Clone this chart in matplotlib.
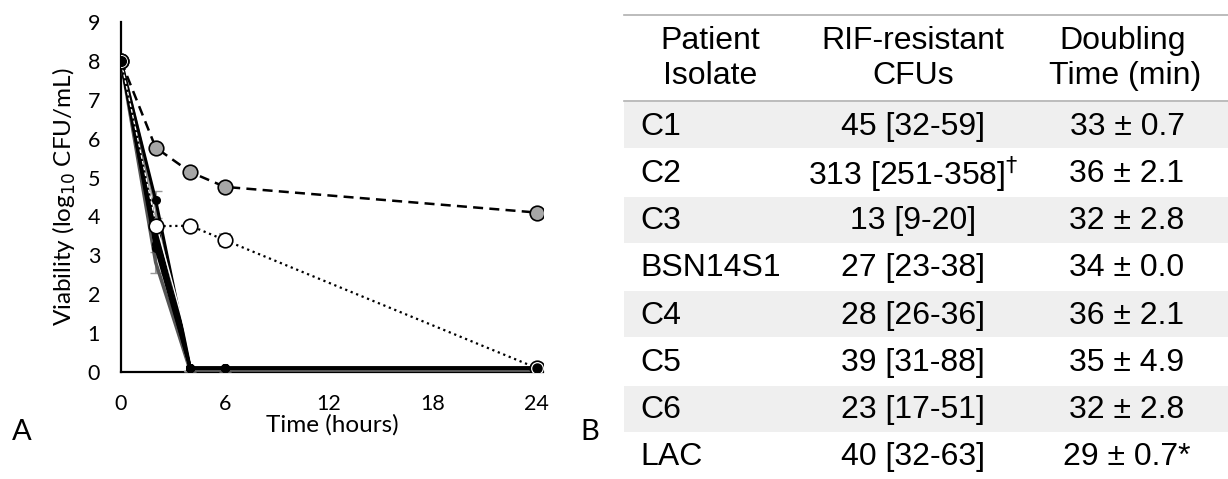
import numpy as np
import matplotlib
matplotlib.use("Agg")
import matplotlib.pyplot as plt

# panel A: time-kill data (log10 CFU/mL)
time_h = [0, 2, 4, 6, 24]
lac_gray = [8, 5.77, 5.14, 4.76, 4.1]
open_white = [8, 3.75, 3.76, 3.39, 0.1]
white_err = [0, 0, 0, 0.15, 0]
black_2h = [4.42, 3.75, 3.5, 3.3, 3.2]
gray_solid = [8, 4.3, 0.03, 0.03, 0.03]
gray_err = [0, 0.35, 0, 0, 0]
gray_low = [8, 2.82, 0.03, 0.03, 0.03]
gray_low_err = [0, 0.27, 0, 0, 0]

# panel B: table
isolates = ["C1", "C2", "C3", "BSN14S1", "C4", "C5", "C6", "LAC"]
rif_cfus = ["45 [32-59]", "313 [251-358]$^{\\dagger}$", "13 [9-20]", "27 [23-38]",
            "28 [26-36]", "39 [31-88]", "23 [17-51]", "40 [32-63]"]
doubling = ["33 ± 0.7", "36 ± 2.1", "32 ± 2.8", "34 ± 0.0",
            "36 ± 2.1", "35 ± 4.9", "32 ± 2.8", "29 ± 0.7*"]

W, H = 1228, 479
fig = plt.figure(figsize=(W / 100, H / 100), dpi=100)

ax = fig.add_axes([121 / W, 1 - 372 / H, 422 / W, 350 / H])
ax.set_xlim(0, 24.35)
ax.set_ylim(0, 9)
for s in ["top", "right"]:
    ax.spines[s].set_visible(False)
for s in ["left", "bottom"]:
    ax.spines[s].set_linewidth(1.6)
    ax.spines[s].set_zorder(0)
ax.tick_params(length=0, labelsize=15.5)
ax.tick_params(axis="x", pad=16)
ax.tick_params(axis="y", pad=15)
ax.set_xticks([0, 6, 12, 18, 24])
ax.set_yticks(range(10))
for lab in ax.get_xticklabels() + ax.get_yticklabels():
    lab.set_family("Lato")

# gray error-bar series under the black bundle
ax.errorbar(time_h, gray_solid, yerr=gray_err, color="#888888", lw=2.5,
            ecolor="#999999", elinewidth=1.5, capsize=4, zorder=2)
ax.errorbar(time_h, gray_low, yerr=gray_low_err, color="#555555", lw=2.5,
            ecolor="#999999", elinewidth=1.5, capsize=4, zorder=2)

for v in black_2h:
    ax.plot(time_h, [8, v, 0.1, 0.1, 0.1], color="black", lw=2.2,
            marker="o", ms=5.5, zorder=3)
ax.plot(time_h[:3], [8, 3.85, 0.6], color="white", lw=1, zorder=4)

ax.plot(time_h, lac_gray, color="black", ls="--", lw=1.8, dashes=(4, 2.5),
        marker="o", ms=10.5, mfc="#a6a6a6", mec="black", mew=1.2, zorder=5)
ax.errorbar(time_h, open_white, yerr=white_err, color="black", ls=":", lw=1.6,
            ecolor="#999999", elinewidth=1.5, capsize=4,
            marker="o", ms=10.5, mfc="white", mec="black", mew=1.2, zorder=5)
ax.plot([time_h[-1]], [0.1], marker="o", ms=6.5, color="black", zorder=6)
ax.plot([time_h[0]], [8], marker="o", ms=7, color="black", zorder=6)

ax.set_xlabel("Time (hours)", family="Lato", fontsize=17.5, labelpad=0)
ax.set_ylabel("Viability (log$_{10}$ CFU/mL)", family="Lato", fontsize=17.5, labelpad=7)
fig.text(12 / W, 1 - 432 / H, "A", family="Lato", fontsize=21, va="center")
fig.text(580 / W, 1 - 432 / H, "B", family="Lato", fontsize=21, va="center")

# table drawn on a pixel-coordinate axes
tb = fig.add_axes([0, 0, 1, 1])
tb.set_xlim(0, W)
tb.set_ylim(H, 0)
tb.axis("off")
tf = dict(family="Liberation Sans", fontsize=23, va="center")
row_h = 47.25
top = 101
tb.plot([624, W], [15, 15], color="#b0b0b0", lw=1.2)
tb.plot([624, W], [top, top], color="#b0b0b0", lw=1.2)
tb.text(710, 41, "Patient", ha="center", **tf)
tb.text(710, 76, "Isolate", ha="center", **tf)
tb.text(913, 41, "RIF-resistant", ha="center", **tf)
tb.text(913, 76, "CFUs", ha="center", **tf)
tb.text(1123, 41, "Doubling", ha="center", **tf)
tb.text(1125, 76, "Time (min)", ha="center", **tf)
for i, (name, cfu, dt) in enumerate(zip(isolates, rif_cfus, doubling)):
    y0 = top + i * row_h
    if i % 2 == 0:
        tb.fill_between([624, W], y0 + 1, y0 + row_h, color="#efefef", lw=0)
    yc = y0 + row_h / 2 + 2
    tb.text(640, yc, name, ha="left", **tf)
    tb.text(913, yc, cfu, ha="center", **tf)
    tb.text(1127, yc, dt, ha="center", **tf)

fig.savefig("out.png", dpi=100)
